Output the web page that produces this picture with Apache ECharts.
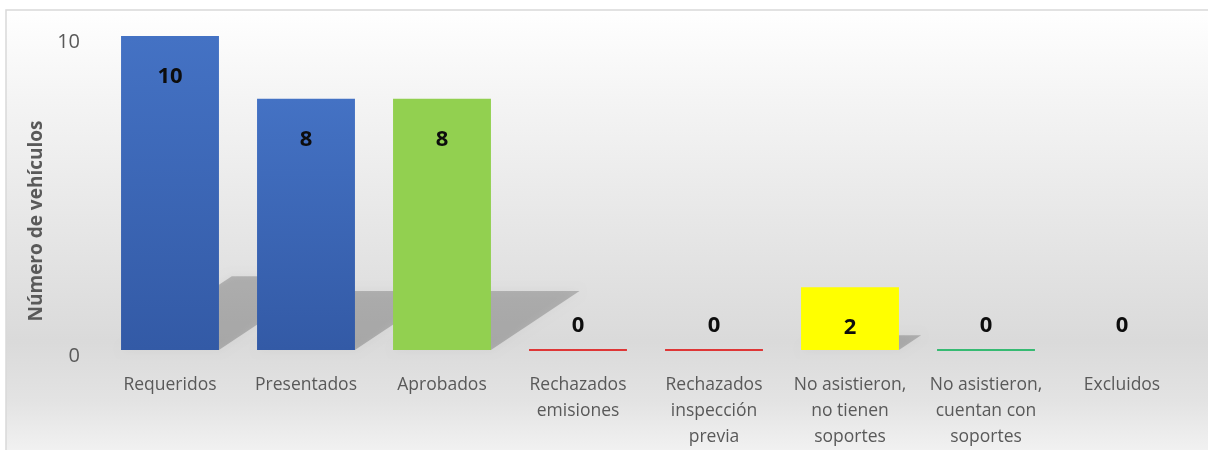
<!doctype html>
<html>
<head>
	<meta charset="utf-8">
	<title>Número de vehículos</title>
	<style>
		html, body { margin: 0; padding: 0; background: #fff; }
		#main { width: 1208px; height: 450px; }
	</style>
</head>
<body>
<div id="main"></div>
<script src="https://cdn.jsdelivr.net/npm/echarts@6/dist/echarts.min.js"></script>
<script>
	// datos del grafico
	var categorias = ['Requeridos', 'Presentados', 'Aprobados', 'Rechazados\nemisiones', 'Rechazados\ninspección\nprevia', 'No asistieron,\nno tienen\nsoportes', 'No asistieron,\ncuentan con\nsoportes', 'Excluidos']
	var valores = [10, 8, 8, 0, 0, 2, 0, 0]
	var ticksY = [0, 10]

	// colores de cada barra
	var azul = new echarts.graphic.LinearGradient(0, 0, 0, 1, [
		{ offset: 0, color: '#4472c4' },
		{ offset: 1, color: '#335aa6' }
	])
	var colores = [azul, azul, '#92d050', 'transparent', 'transparent', '#ffff00', 'transparent', 'transparent']
	var bordes = [null, null, null, '#e00000', '#e00000', null, '#00b050', null]

	var fuente = '"Open Sans", "Noto Sans", sans-serif'
	var myChart = echarts.init(document.getElementById('main'))

	var datosBarras = []
	for (var i = 0; i < valores.length; i++) {
		var item = {
			value: valores[i],
			itemStyle: { color: colores[i] }
		}
		if (bordes[i]) {
			item.itemStyle.borderColor = bordes[i]
			item.itemStyle.borderWidth = 1.5
		}
		if (valores[i] === 0) {
			item.label = { position: 'top', distance: 13 }
		}
		datosBarras.push(item)
	}

	var option = {
		animation: false,
		graphic: [{
			type: 'rect',
			z: -100,
			silent: true,
			shape: { x: 6, y: 10, width: 1220, height: 460 },
			style: {
				fill: new echarts.graphic.LinearGradient(0, 0, 0, 1, [
					{ offset: 0, color: '#ffffff' },
					{ offset: 0.2, color: '#f4f4f4' },
					{ offset: 0.72, color: '#dadada' },
					{ offset: 0.85, color: '#e3e3e3' },
					{ offset: 1, color: '#f7f7f7' }
				]),
				stroke: '#d9d9d9',
				lineWidth: 1.5
			}
		}],
		grid: { left: 102, right: 18, top: 36, bottom: 98 },
		xAxis: {
			type: 'category',
			data: categorias,
			axisLine: { show: false },
			axisTick: { show: false },
			axisLabel: {
				interval: 0,
				margin: 22,
				color: '#595959',
				fontFamily: fuente,
				fontSize: 17.5,
				lineHeight: 26
			}
		},
		yAxis: {
			type: 'value',
			min: ticksY[0],
			max: ticksY[ticksY.length - 1],
			interval: 10,
			name: 'Número de vehículos',
			nameLocation: 'middle',
			nameGap: 56,
			nameTextStyle: {
				color: '#595959',
				fontFamily: fuente,
				fontSize: 19,
				fontWeight: 'bold',
				padding: [0, 56, 0, 0]
			},
			splitLine: { show: false },
			axisLine: { show: false },
			axisTick: { show: false },
			axisLabel: {
				margin: 22,
				color: '#595959',
				fontFamily: fuente,
				fontSize: 20,
				verticalAlign: 'top',
				lineHeight: 12
			}
		},
		series: [{
			// sombras detras de las barras
			type: 'custom',
			z: 1,
			silent: true,
			data: valores.map(function (v, i) { return [i, v] }),
			renderItem: function (params, api) {
				var idx = api.value(0)
				var base = api.coord([idx, 0])
				var tope = api.coord([idx, api.value(1)])
				var w = api.size([1, 0])[0] * 0.72
				var h = (base[1] - tope[1]) * 0.235
				var d = h * 1.5
				if (h <= 0) return null
				return {
					type: 'polygon',
					shape: {
						points: [
							[base[0] - w / 2, base[1]],
							[base[0] + w / 2, base[1]],
							[base[0] + w / 2 + d, base[1] - h],
							[base[0] - w / 2 + d, base[1] - h]
						]
					},
					style: {
						fill: 'rgba(0,0,0,0.2)',
						shadowBlur: 8,
						shadowColor: 'rgba(0,0,0,0.2)'
					}
				}
			}
		}, {
			type: 'bar',
			z: 2,
			barWidth: '72%',
			data: datosBarras,
			label: {
				show: true,
				position: 'insideTop',
				distance: 30,
				color: '#0d0d0d',
				fontFamily: fuente,
				fontSize: 22,
				fontWeight: 'bold'
			}
		}]
	}
	myChart.setOption(option)
</script>
</body>
</html>
